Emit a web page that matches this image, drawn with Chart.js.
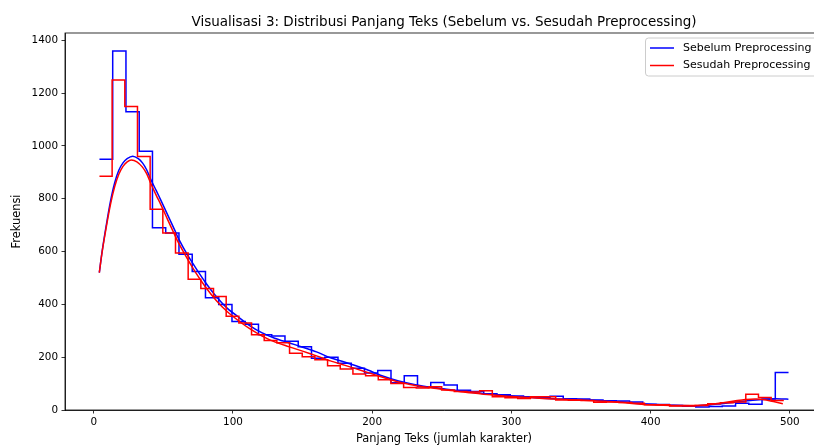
<!DOCTYPE html>
<html>
<head>
<meta charset="utf-8">
<script src="https://cdn.jsdelivr.net/npm/chart.js@4/dist/chart.umd.min.js"></script>
<style>
html,body{margin:0;padding:0;background:#fff;overflow:hidden;width:814px;height:446px;}
canvas{display:block;}
</style>
</head>
<body>
<canvas id="c" width="840" height="446"></canvas>
<script>
// ---- Data ----
const titleText = "Visualisasi 3: Distribusi Panjang Teks (Sebelum vs. Sesudah Preprocessing)";
const xLabel = "Panjang Teks (jumlah karakter)";
const yLabel = "Frekuensi";
const seriesNames = ["Sebelum Preprocessing", "Sesudah Preprocessing"];
const xTicks = [0, 100, 200, 300, 400, 500];
const yTicks = [0, 200, 400, 600, 800, 1000, 1200, 1400];

// histogram (step) counts per bin
const blueRange = [4.1, 499.1];
const blueCounts = [950,1360,1130,980,690,670,590,525,425,400,335,325,285,280,260,240,196,200,177,158,140,150,103,130,88,104,95,75,70,62,58,53,50,48,52,43,42,38,35,34,30,22,21,17,14,11,13,15,26,22,42,142];
const redRange = [4.1, 495.7];
const redCounts = [885,1250,1150,960,760,670,595,495,460,430,355,330,285,263,255,215,202,190,168,155,136,130,115,100,85,83,88,76,70,68,73,50,46,44,50,50,38,37,36,29,30,28,26,20,20,15,15,17,24,27,30,60,47,36];

// KDE curves (scaled to counts)
const kdeBlueX = [4,6,9,12,15,18,21,24,28,32,35,38,41,45,48,53,58,61,67,73,80,88,96,104,112,121,130,140,150,160,170,180,195,207,219,231,243,255,267,280,291,303,315,330,343,355,367,380,391,403,415,432,442,451,460,468,478,487,494,499];
const kdeBlueY = [520,600,700,790,860,908,936,952,961,952,936,910,873,830,797,740,683,648,590,540,485,430,385,352,320,292,272,255,238,220,198,182,155,130,110,96,86,78,70,62,57,51,47,43,41,38,35,30,25,21,18,16,19,24,29,34,39,42,42,41];
const kdeRedX = [4,6,9,12,15,18,21,24,27,31,35,38,41,45,48,53,58,61,67,73,80,88,96,104,112,121,130,140,150,160,170,180,195,207,219,231,243,255,267,280,291,303,315,330,343,355,367,380,391,403,415,432,442,451,460,468,476,483,489,495];
const kdeRedY = [520,598,693,778,845,893,923,940,947,940,920,895,858,812,780,722,665,632,575,522,468,415,372,338,308,280,258,240,223,205,186,170,145,125,106,93,83,75,67,60,55,50,46,42,39,36,33,28,23,19,17,17,21,27,34,40,42,38,31,24];

const blueColor = "#0000ff";
const redColor = "#ff0000";

function stepPoints(range, counts) {
  const n = counts.length, w = (range[1] - range[0]) / n;
  const pts = counts.map((c, i) => ({x: range[0] + i * w, y: c}));
  pts.push({x: range[1], y: counts[n - 1]});
  return pts;
}
function curvePoints(xs, ys) { return xs.map((x, i) => ({x: x, y: ys[i]})); }

const FONT = "'DejaVu Sans', sans-serif";

const decor = {
  id: 'decor',
  afterDraw(chart) {
    const ctx = chart.ctx, a = chart.chartArea;
    ctx.save();
    // frame
    ctx.strokeStyle = "#000"; ctx.lineWidth = 0.8;
    ctx.strokeRect(a.left, a.top, a.right - a.left, a.bottom - a.top);
    // title
    ctx.fillStyle = "#000";
    ctx.font = "13.5px " + FONT;
    ctx.textAlign = "center"; ctx.textBaseline = "middle";
    ctx.fillText(titleText, (a.left + a.right) / 2, 22);
    // axis labels
    ctx.font = "11.4px " + FONT;
    ctx.fillText(xLabel, (a.left + a.right) / 2, 439);
    ctx.save();
    ctx.translate(17, (a.top + a.bottom) / 2);
    ctx.rotate(-Math.PI / 2);
    ctx.fillText(yLabel, 0, 0);
    ctx.restore();
    // legend
    const lx = 645.5, ly = 38, lw = 172, lh = 38, r = 3;
    ctx.beginPath();
    ctx.moveTo(lx + r, ly);
    ctx.lineTo(lx + lw - r, ly); ctx.arcTo(lx + lw, ly, lx + lw, ly + r, r);
    ctx.lineTo(lx + lw, ly + lh - r); ctx.arcTo(lx + lw, ly + lh, lx + lw - r, ly + lh, r);
    ctx.lineTo(lx + r, ly + lh); ctx.arcTo(lx, ly + lh, lx, ly + lh - r, r);
    ctx.lineTo(lx, ly + r); ctx.arcTo(lx, ly, lx + r, ly, r);
    ctx.closePath();
    ctx.fillStyle = "rgba(255,255,255,0.8)"; ctx.fill();
    ctx.strokeStyle = "#cccccc"; ctx.lineWidth = 1; ctx.stroke();
    const cols = [blueColor, redColor];
    ctx.font = "11px " + FONT;
    ctx.textAlign = "left"; ctx.textBaseline = "middle";
    seriesNames.forEach((name, i) => {
      const y = 48 + i * 17.5;
      ctx.strokeStyle = cols[i]; ctx.lineWidth = 1.5;
      ctx.beginPath(); ctx.moveTo(650, y); ctx.lineTo(674, y); ctx.stroke();
      ctx.fillStyle = "#000";
      ctx.fillText(name, 683, y);
    });
    ctx.restore();
  }
};

new Chart(document.getElementById('c'), {
  type: 'line',
  data: {
    datasets: [
      {label: seriesNames[0], data: stepPoints(blueRange, blueCounts), borderColor: blueColor, borderWidth: 1.5, stepped: 'before', pointRadius: 0, fill: false, order: 4},
      {label: seriesNames[0] + " KDE", data: curvePoints(kdeBlueX, kdeBlueY), borderColor: blueColor, borderWidth: 1.5, tension: 0.3, pointRadius: 0, fill: false, order: 3},
      {label: seriesNames[1], data: stepPoints(redRange, redCounts), borderColor: redColor, borderWidth: 1.5, stepped: 'before', pointRadius: 0, fill: false, order: 2},
      {label: seriesNames[1] + " KDE", data: curvePoints(kdeRedX, kdeRedY), borderColor: redColor, borderWidth: 1.5, tension: 0.3, pointRadius: 0, fill: false, order: 1}
    ]
  },
  options: {
    responsive: false,
    animation: false,
    events: [],
    layout: {padding: {top: 33, right: 17, left: 0, bottom: 0}},
    plugins: {legend: {display: false}, title: {display: false}, tooltip: {enabled: false}},
    scales: {
      x: {
        type: 'linear', min: -20.65, max: 523.85,
        afterBuildTicks: s => { s.ticks = xTicks.map(v => ({value: v})); },
        afterFit: s => { s.height = 36; },
        grid: {drawOnChartArea: false, drawTicks: true, tickLength: 3.5, tickColor: "#000", tickWidth: 0.8},
        border: {display: true, color: "#000", width: 0.8},
        ticks: {color: "#000", font: {family: FONT, size: 10.4}, padding: 3, maxRotation: 0, autoSkip: false, callback: v => String(v)}
      },
      y: {
        type: 'linear', min: 0, max: 1428,
        afterBuildTicks: s => { s.ticks = yTicks.map(v => ({value: v})); },
        afterFit: s => { s.width = 65; },
        grid: {drawOnChartArea: false, drawTicks: true, tickLength: 3.5, tickColor: "#000", tickWidth: 0.8},
        border: {display: true, color: "#000", width: 0.8},
        ticks: {color: "#000", font: {family: FONT, size: 10.4}, padding: 3.5, autoSkip: false, callback: v => String(v)}
      }
    }
  },
  plugins: [decor]
});
</script>
</body>
</html>
